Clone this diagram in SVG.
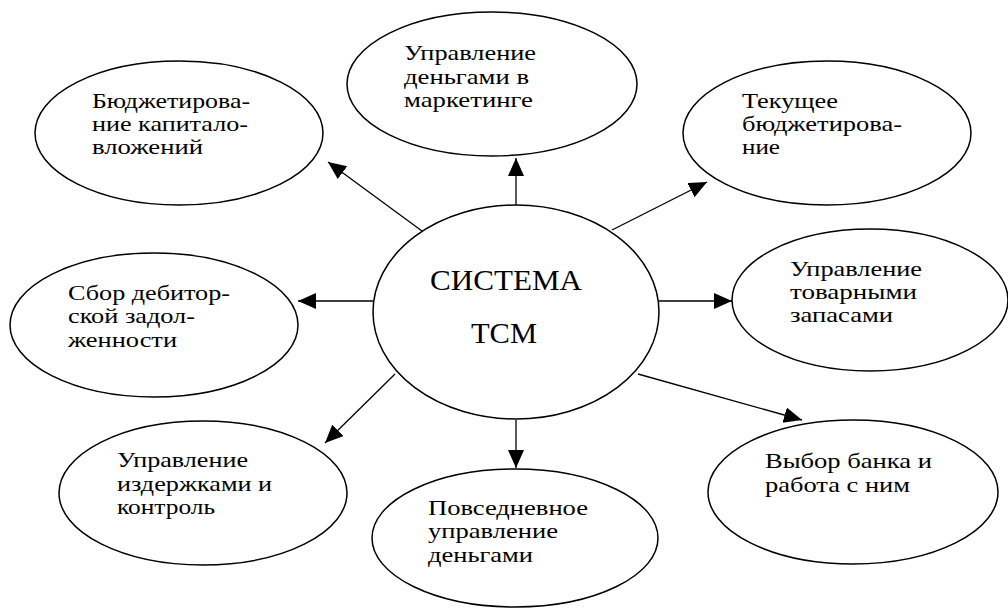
<svg xmlns="http://www.w3.org/2000/svg" width="1008" height="608" viewBox="0 0 1008 608">
<style>
.node ellipse{fill:#fff;stroke:#000;stroke-width:1.5}
.t{font-family:"Liberation Serif","Times New Roman",serif;font-size:21px;fill:#000}
.big{font-family:"Liberation Serif","Times New Roman",serif;font-size:30px;fill:#000}
.c line{stroke:#000;stroke-width:1.3}
</style>
<defs>
<marker id="ah" markerUnits="userSpaceOnUse" markerWidth="19" markerHeight="17" refX="18" refY="8" orient="auto">
<path d="M0,0 L18,8 L0,16 Z" fill="#000"/>
</marker>
</defs>
<rect width="1008" height="608" fill="#fff"/>
<g id="connectors" class="c">
<line x1="516" y1="205" x2="516" y2="158" marker-end="url(#ah)"/>
<line x1="422" y1="231" x2="328" y2="162" marker-end="url(#ah)"/>
<line x1="612" y1="230" x2="707" y2="182" marker-end="url(#ah)"/>
<line x1="373" y1="301" x2="298" y2="301" marker-end="url(#ah)"/>
<line x1="659" y1="301" x2="732" y2="301" marker-end="url(#ah)"/>
<line x1="638" y1="374" x2="802" y2="420" marker-end="url(#ah)"/>
<line x1="516" y1="420" x2="516" y2="468" marker-end="url(#ah)"/>
<line x1="395" y1="374" x2="325" y2="443" marker-end="url(#ah)"/>
</g>
<g id="center" class="node">
<ellipse cx="516" cy="312" rx="143" ry="107"/>
<text class="big" x="430" y="290" textLength="152" lengthAdjust="spacingAndGlyphs">СИСТЕМА</text>
<text class="big" x="471" y="343" textLength="66" lengthAdjust="spacingAndGlyphs">ТСМ</text>
</g>
<g id="n-top" class="node">
<ellipse cx="492" cy="84" rx="145" ry="72"/>
<text class="t" x="404" y="60" textLength="132" lengthAdjust="spacingAndGlyphs">Управление</text>
<text class="t" x="404" y="84" textLength="125" lengthAdjust="spacingAndGlyphs">деньгами в</text>
<text class="t" x="404" y="107" textLength="129" lengthAdjust="spacingAndGlyphs">маркетинге</text>
</g>
<g id="n-topleft" class="node">
<ellipse cx="179" cy="133" rx="144" ry="72"/>
<text class="t" x="92" y="108" textLength="158" lengthAdjust="spacingAndGlyphs">Бюджетирова-</text>
<text class="t" x="92" y="131" textLength="156" lengthAdjust="spacingAndGlyphs">ние капитало-</text>
<text class="t" x="92" y="154" textLength="111" lengthAdjust="spacingAndGlyphs">вложений</text>
</g>
<g id="n-topright" class="node">
<ellipse cx="827" cy="133" rx="144" ry="72"/>
<text class="t" x="742" y="108" textLength="96" lengthAdjust="spacingAndGlyphs">Текущее</text>
<text class="t" x="742" y="131" textLength="160" lengthAdjust="spacingAndGlyphs">бюджетирова-</text>
<text class="t" x="742" y="154" textLength="38" lengthAdjust="spacingAndGlyphs">ние</text>
</g>
<g id="n-left" class="node">
<ellipse cx="154" cy="325" rx="144" ry="72"/>
<text class="t" x="68" y="300" textLength="162" lengthAdjust="spacingAndGlyphs">Сбор дебитор-</text>
<text class="t" x="68" y="323" textLength="127" lengthAdjust="spacingAndGlyphs">ской задол-</text>
<text class="t" x="68" y="347" textLength="109" lengthAdjust="spacingAndGlyphs">женности</text>
</g>
<g id="n-right" class="node">
<ellipse cx="870" cy="300" rx="138" ry="71"/>
<text class="t" x="790" y="276" textLength="132" lengthAdjust="spacingAndGlyphs">Управление</text>
<text class="t" x="790" y="299" textLength="127" lengthAdjust="spacingAndGlyphs">товарными</text>
<text class="t" x="790" y="322" textLength="103" lengthAdjust="spacingAndGlyphs">запасами</text>
</g>
<g id="n-bottomright" class="node">
<ellipse cx="853" cy="492" rx="145" ry="72"/>
<text class="t" x="765" y="468" textLength="167" lengthAdjust="spacingAndGlyphs">Выбор банка и</text>
<text class="t" x="765" y="492" textLength="145" lengthAdjust="spacingAndGlyphs">работа с ним</text>
</g>
<g id="n-bottom" class="node">
<ellipse cx="515" cy="538" rx="143" ry="69"/>
<text class="t" x="428" y="515" textLength="160" lengthAdjust="spacingAndGlyphs">Повседневное</text>
<text class="t" x="428" y="538" textLength="130" lengthAdjust="spacingAndGlyphs">управление</text>
<text class="t" x="428" y="562" textLength="105" lengthAdjust="spacingAndGlyphs">деньгами</text>
</g>
<g id="n-bottomleft" class="node">
<ellipse cx="203" cy="493" rx="144" ry="72"/>
<text class="t" x="117" y="467" textLength="131" lengthAdjust="spacingAndGlyphs">Управление</text>
<text class="t" x="117" y="491" textLength="155" lengthAdjust="spacingAndGlyphs">издержками и</text>
<text class="t" x="117" y="514" textLength="98" lengthAdjust="spacingAndGlyphs">контроль</text>
</g>
</svg>
